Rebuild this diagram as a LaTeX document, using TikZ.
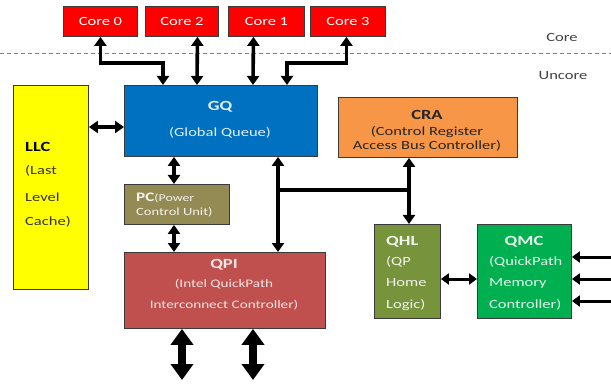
\documentclass[tikz,border=0pt]{standalone}
\usepackage{fontspec}
\setmainfont{Carlito}[FakeStretch=1.32]
\usetikzlibrary{arrows.meta}
\definecolor{corered}{HTML}{FF0000}
\definecolor{gqblue}{HTML}{0070C0}
\definecolor{llcyellow}{HTML}{FFFF00}
\definecolor{pcolive}{HTML}{948A54}
\definecolor{qpired}{HTML}{C0504D}
\definecolor{craorange}{HTML}{F79646}
\definecolor{qhlgreen}{HTML}{77933C}
\definecolor{qmcgreen}{HTML}{00B050}
\definecolor{edge}{HTML}{3A3A3A}
\begin{document}
\begin{tikzpicture}[x=1pt,y=-1pt,
  box/.style={draw=edge, line width=0.9pt, inner sep=0pt, anchor=north west},
  lbl/.style={inner sep=0pt, font=\fontsize{12.5}{14}\selectfont},
  ttl/.style={inner sep=0pt, font=\fontsize{14}{16}\selectfont\bfseries},
  dbl/.style={line width=3.6pt, line join=miter, {Triangle[width=12pt,length=9pt]}-{Triangle[width=12pt,length=9pt]}},
  big/.style={line width=7.5pt, {Triangle[width=22pt,length=16pt]}-{Triangle[width=22pt,length=16pt]}},
  small/.style={line width=3pt, {Triangle[width=11pt,length=8pt]}-{Triangle[width=11pt,length=8pt]}}]
\useasboundingbox (0,0) rectangle (611,385);
\fill[white] (0,0) rectangle (611,385);
% cores
\node[box, fill=corered, minimum width=74pt, minimum height=30pt] (c0) at (63,6) {};
\node[box, fill=corered, minimum width=73pt, minimum height=30pt] (c2) at (145,6) {};
\node[box, fill=corered, minimum width=76pt, minimum height=30pt] (c1) at (228,6) {};
\node[box, fill=corered, minimum width=75pt, minimum height=30pt] (c3) at (310,6) {};
\node[lbl, text=white] (t0) at (c0.center) {Core 0};
\node[lbl, text=white] (t2) at (c2.center) {Core 2};
\node[lbl, text=white] (t1) at (c1.center) {Core 1};
\node[lbl, text=white] (t3) at (c3.center) {Core 3};
% divider
\draw[gray, line width=0.9pt, dash pattern=on 4pt off 3pt] (0,53) -- (611,53);
\node[lbl, text=black!75] (core) at (562,37) {Core};
\node[lbl, text=black!75] (uncore) at (563,76) {Uncore};
% boxes
\node[box, fill=llcyellow, minimum width=75pt, minimum height=204pt] (llc) at (13,85) {};
\node[box, fill=gqblue, minimum width=193pt, minimum height=71pt] (gq) at (124,85) {};
\node[box, fill=pcolive, minimum width=105pt, minimum height=40pt] (pc) at (124,184) {};
\node[box, fill=qpired, minimum width=201pt, minimum height=76pt] (qpi) at (124,252) {};
\node[box, fill=craorange, minimum width=179pt, minimum height=60pt] (cra) at (338,97) {};
\node[box, fill=qhlgreen, minimum width=66pt, minimum height=94pt] (qhl) at (374,224) {};
\node[box, fill=qmcgreen, minimum width=94pt, minimum height=94pt] (qmc) at (477,224) {};
% texts
\node[ttl, anchor=west] (llc1) at (25,147) {LLC};
\node[lbl, anchor=west, text=black!80] (llc2) at (25,171) {(Last};
\node[lbl, anchor=west, text=black!80] (llc3) at (25,197) {Level};
\node[lbl, anchor=west, text=black!80] (llc4) at (25,222) {Cache)};
\node[ttl, text=white!88!gqblue] (gq1) at (220,107) {GQ};
\node[lbl, text=white!88!gqblue] (gq2) at (220,133) {(Global Queue)};
\node[lbl, anchor=west, text=white!90!pcolive] (pc1) at (136,198) {{\fontsize{13}{14}\selectfont\bfseries PC}{\fontsize{10.5}{12}\selectfont(Power}};
\node[lbl, anchor=west, text=white!90!pcolive, font=\fontsize{11}{12}\selectfont] (pc2) at (136,212) {Control Unit)};
\node[ttl, text=white!85!qpired] (qpi1) at (224,265) {QPI};
\node[lbl, text=white!85!qpired, font=\fontsize{11.5}{13}\selectfont] (qpi2) at (224,284) {(Intel QuickPath};
\node[lbl, text=white!85!qpired, font=\fontsize{11.5}{13}\selectfont] (qpi3) at (224,305) {Interconnect Controller)};
\node[ttl, text=black!85] (cra1) at (427,115) {CRA};
\node[lbl, text=black!85] (cra2) at (427,132) {(Control Register};
\node[lbl, text=black!85] (cra3) at (427,146) {Access Bus Controller)};
\node[ttl, anchor=west, text=white!90!qhlgreen] (qhl1) at (386,242) {QHL};
\node[lbl, anchor=west, text=white!90!qhlgreen] (qhl2) at (386,262) {(QP};
\node[lbl, anchor=west, text=white!90!qhlgreen] (qhl3) at (386,283) {Home};
\node[lbl, anchor=west, text=white!90!qhlgreen] (qhl4) at (386,305) {Logic)};
\node[ttl, text=white!90!qmcgreen] (qmc1) at (524,242) {QMC};
\node[lbl, anchor=west, text=white!90!qmcgreen] (qmc2) at (489,262) {(QuickPath};
\node[lbl, anchor=west, text=white!90!qmcgreen] (qmc3) at (489,283) {Memory};
\node[lbl, anchor=west, text=white!90!qmcgreen] (qmc4) at (489,305) {Controller)};
% connectors
\draw[dbl] (c0.south) -- ++(0,26) -| ([xshift=39pt]gq.north west);
\draw[dbl] ([xshift=15.5pt]c2.south) -- ([xshift=73pt]gq.north west);
\draw[dbl] ([xshift=-13pt]c1.south) -- ([xshift=129pt]gq.north west);
\draw[dbl] ([xshift=-1.5pt]c3.south) -- ++(0,26) -| ([xshift=163pt]gq.north west);
\draw[dbl] (llc.east |- 0,127) -- (gq.west |- 0,127);
\draw[dbl] ([xshift=50pt]gq.south west) -- ([xshift=50pt]pc.north west);
\draw[dbl] ([xshift=50pt]pc.south west) -- ([xshift=50pt]qpi.north west);
\draw[dbl] ([xshift=154pt]gq.south west) -- ([xshift=154pt]qpi.north west);
\coordinate (j1) at (278,190);
\coordinate (j2) at (409,190);
\draw[line width=3.6pt] (j1) -- (j2);
\draw[dbl] ([xshift=71pt]cra.south west) -- ([xshift=35pt]qhl.north west);
\draw[small] (qhl.east |- 0,279) -- (qmc.west |- 0,279);
\coordinate (m1) at (622,257);
\coordinate (m2) at (622,279);
\coordinate (m3) at (622,301);
\draw[small] (qmc.east |- m1) -- (m1);
\draw[small] (qmc.east |- m2) -- (m2);
\draw[small] (qmc.east |- m3) -- (m3);
\coordinate (b1) at (182,380);
\coordinate (b2) at (253,380);
\draw[big] (qpi.south -| b1) -- (b1);
\draw[big] (qpi.south -| b2) -- (b2);
\end{tikzpicture}
\end{document}
